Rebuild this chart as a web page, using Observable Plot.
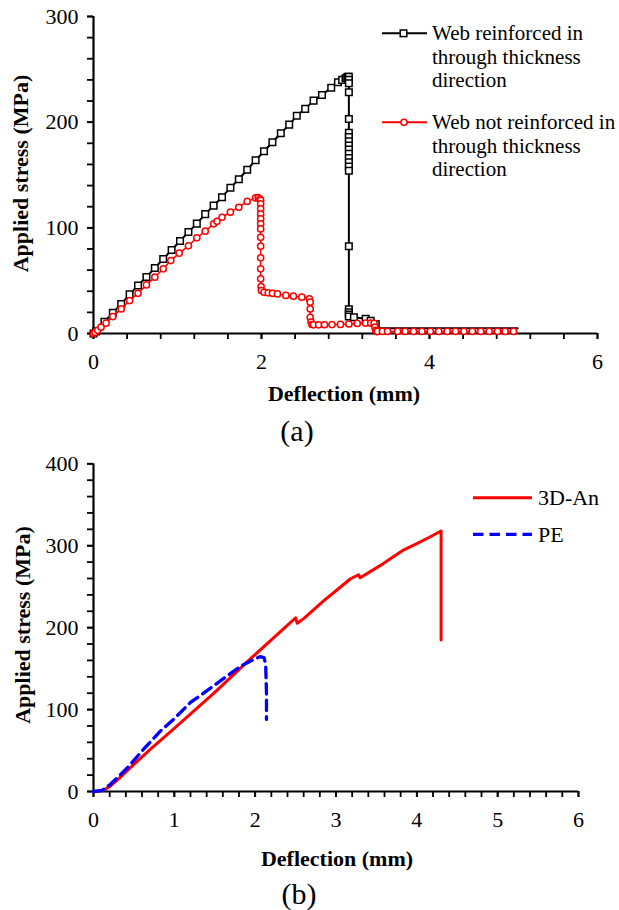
<!DOCTYPE html>
<html><head><meta charset="utf-8">
<script src="https://cdn.jsdelivr.net/npm/d3@7"></script>
<script src="https://cdn.jsdelivr.net/npm/@observablehq/plot@0.6"></script>
<style>
body{margin:0;background:#fff;}
#wrap{position:relative;width:619px;height:910px;overflow:hidden;background:#fff;}
#wrap > svg{position:absolute;left:0;}
</style></head><body><div id="wrap"></div>
<script>
// ---------- Chart (a) data ----------
const reinforcedX = [0,0.03,0.13,0.23,0.33,0.43,0.53,0.63,0.73,0.83,0.93,1.03,1.13,1.23,1.33,1.43,1.53,1.63,1.73,1.83,1.93,2.03,2.13,2.23,2.33,2.42,2.52,2.62,2.72,2.83,2.91,2.96,3.0,3.02,3.03,3.04,
  3.04,3.04,3.04,3.04,3.04,3.04,3.04,3.04,3.04,3.04,3.04,3.04,3.04,3.04,3.04,3.04,3.04,3.04,3.04,
  3.10,3.24,3.30,3.36,3.38,5.05];
const reinforcedY = [0,2,11,19.5,28,37,45.5,53.5,62,70.5,79,87.5,96,104,113,121,129,138,146,155,164,172.5,181,189.5,197.7,206,212.6,220.4,225.8,232.5,237.7,240,241.5,242.5,243,243,
  240,236.8,228.3,203,190,186,182,178,174,170,166,162,158,154,82.6,23,20,18,16,
  15.4,13.9,12,9,5,5];
const notReinforcedX = [0,0.02,0.05,0.09,0.15,0.23,0.33,0.43,0.53,0.63,0.73,0.83,0.92,1.02,1.13,1.23,1.33,1.43,1.47,1.53,1.63,1.73,1.83,1.93,1.96,1.98,
  1.99,1.99,1.99,1.99,1.99,1.99,1.99,1.99,1.99,1.99,1.99,1.99,1.995,2.0,
  2.03,2.08,2.13,2.19,2.29,2.38,2.48,2.57,
  2.58,2.58,2.58,2.59,2.60,
  2.62,2.68,2.75,2.84,2.94,3.04,3.14,3.24,3.30,3.34,
  3.35,3.36,3.37,
  3.38,3.44,3.50,3.62,3.71,3.81,3.91,4.01,4.11,4.21,4.31,4.41,4.51,4.61,4.71,4.81,4.90,5.00];
const notReinforcedY = [0,1,3,6,9.8,16,23.3,31.2,38,46,53.3,61.2,69,76,83,90.5,96.8,103.8,106.2,110,114.8,119.5,125,128.3,128.5,127.5,
  126,122.7,118,113,108.5,103.8,99,91,82.6,71.6,61.2,51.7,44.5,40.7,
  39,38.5,38,37.5,36,35.3,34.4,32.8,
  29.6,23.3,15.4,10.7,8.5,
  8.2,8.2,8.3,8.4,8.6,9,9.5,9.8,9.8,9.5,
  6,3,1.8,
  2,2,2,2,2,2,2,2,2,2,2,2,2,2,2,2,2,2];
const aXTicks = [0,2,4,6];
const aXMinor = [0,0.4,0.8,1.2,1.6,2,2.4,2.8,3.2,3.6,4,4.4,4.8,5.2,5.6,6];
const aYTicks = [0,100,200,300];
const aYMinor = [0,20,40,60,80,100,120,140,160,180,200,220,240,260,280,300];
const aLegend = ["Web reinforced in|through thickness|direction", "Web not reinforced in|through thickness|direction"];

// ---------- Chart (b) data ----------
const anX = [0,0.06,0.12,0.2,0.3,0.5,0.705,1.0,1.5,1.94,2.2,2.50,2.52,2.6,2.85,3.0,3.18,3.28,3.30,3.55,3.70,3.84,4.0,4.15,4.30,4.30];
const anY = [0,0.5,1.5,6,14.5,33,51.6,77,121,161.8,185,212,205.4,211,233,245,259.7,264.6,261,276,286,295,302.6,310,318,185];
const peX = [0,0.1,0.21,0.42,0.62,0.83,0.99,1.2,1.32,1.57,1.82,1.98,2.06,2.11,2.13,2.14,2.14];
const peY = [0,1,8.8,29,51.6,74,88,108.7,117,135,153,161,164.6,163.5,155,120,88];
const bXTicks = [0,1,2,3,4,5,6];
const bXMinor = [0,0.2,0.4,0.6,0.8,1,1.2,1.4,1.6,1.8,2,2.2,2.4,2.6,2.8,3,3.2,3.4,3.6,3.8,4,4.2,4.4,4.6,4.8,5,5.2,5.4,5.6,5.8,6];
const bYTicks = [0,100,200,300,400];
const bYMinor = [0,20,40,60,80,100,120,140,160,180,200,220,240,260,280,300,320,340,360,380,400];
const bLegend = ["3D-An","PE"];

const FONT = "Liberation Serif";
const pts = (xs, ys) => xs.map((x, i) => ({x, y: ys[i]}));
const reinforced = pts(reinforcedX, reinforcedY);
const notReinforced = pts(notReinforcedX, notReinforcedY);
const an = pts(anX, anY);
const pe = pts(peX, peY);

function axes(xT, xM, yT, yM, xMax, yMax) {
  return [
    Plot.axisY({ticks: yM, tickSize: 6, text: null, label: null, strokeWidth: 1.8}),
    Plot.axisY({ticks: yT, tickSize: 6, tickPadding: 9, fontSize: 22, label: null, strokeWidth: 1.8, tickFormat: d => String(d)}),
    Plot.axisX({ticks: xM, tickSize: 6, text: null, label: null, strokeWidth: 1.8}),
    Plot.axisX({ticks: xT, tickSize: 6, tickPadding: 14, fontSize: 22, label: null, strokeWidth: 1.8, tickFormat: d => String(d)}),
    Plot.ruleX([0], {y1: 0, y2: yMax, stroke: "black", strokeWidth: 2.2}),
    Plot.ruleY([0], {x1: 0, x2: xMax, stroke: "black", strokeWidth: 2.2})
  ];
}

const plotA = Plot.plot({
  width: 619, height: 440,
  marginLeft: 93, marginRight: 22, marginTop: 16, marginBottom: 107,
  style: {fontFamily: FONT, color: "black", background: "transparent", overflow: "visible"},
  x: {domain: [0, 6]},
  y: {domain: [0, 300]},
  marks: [
    ...axes(aXTicks, aXMinor, aYTicks, aYMinor, 6, 300),
    Plot.line(reinforced, {x: "x", y: "y", stroke: "black", strokeWidth: 2}),
    Plot.dot(reinforced.filter(d => !(d.x > 3.35 && d.y < 8)), {x: "x", y: "y", symbol: "square", r: 3.7, stroke: "black", fill: "white", strokeWidth: 1.5}),
    Plot.line(notReinforced, {x: "x", y: "y", stroke: "#ff0000", strokeWidth: 1.5}),
    Plot.dot(notReinforced, {x: "x", y: "y", r: 3.1, stroke: "#ff0000", fill: "white", strokeWidth: 1.5})
  ]
});
plotA.style.top = "0px";

const plotB = Plot.plot({
  width: 619, height: 470,
  marginLeft: 93, marginRight: 41, marginTop: 23.3, marginBottom: 119,
  style: {fontFamily: FONT, color: "black", background: "transparent", overflow: "visible"},
  x: {domain: [0, 6]},
  y: {domain: [0, 400]},
  marks: [
    ...axes(bXTicks, bXMinor, bYTicks, bYMinor, 6, 400),
    Plot.line(an, {x: "x", y: "y", stroke: "#ff0000", strokeWidth: 3}),
    Plot.line(pe, {x: "x", y: "y", stroke: "#0000ff", strokeWidth: 3.3, strokeDasharray: "10.5,6"})
  ]
});
plotB.style.top = "440px";

const wrap = document.getElementById("wrap");
wrap.appendChild(plotA);
wrap.appendChild(plotB);
for (const p of [plotA, plotB]) {
  p.setAttribute("font-family", FONT);
  p.querySelectorAll("text").forEach(t => t.setAttribute("font-family", FONT));
}

// ---------- Overlay: titles, captions, legends ----------
const ov = d3.select(wrap).append("svg")
  .attr("width", 619).attr("height", 910)
  .attr("font-family", FONT)
  .style("top", "0px");

function txt(x, y, s, size, opts = {}) {
  const t = ov.append("text").attr("x", x).attr("y", y).attr("font-size", size)
    .attr("font-family", FONT)
    .attr("text-anchor", opts.anchor || "start").attr("fill", "black").text(s);
  if (opts.bold) t.attr("font-weight", "bold");
  if (opts.rotate) t.attr("transform", `rotate(-90,${x},${y})`);
  return t;
}
// chart (a)
txt(28, 173.5, "Applied stress (MPa)", 22, {anchor: "middle", bold: true, rotate: true});
txt(344, 401, "Deflection (mm)", 22, {anchor: "middle", bold: true});
txt(297, 440.5, "(a)", 30, {anchor: "middle"});
// legend (a)
ov.append("line").attr("x1", 382).attr("x2", 427).attr("y1", 33.3).attr("y2", 33.3).attr("stroke", "black").attr("stroke-width", 2);
ov.append("rect").attr("x", 403.5 - 3.3).attr("y", 33.3 - 3.3).attr("width", 6.6).attr("height", 6.6).attr("fill", "white").attr("stroke", "black").attr("stroke-width", 1.5);
ov.append("line").attr("x1", 382).attr("x2", 427).attr("y1", 122.3).attr("y2", 122.3).attr("stroke", "#ff0000").attr("stroke-width", 2);
ov.append("circle").attr("cx", 404).attr("cy", 122.3).attr("r", 3.1).attr("fill", "white").attr("stroke", "#ff0000").attr("stroke-width", 1.5);
aLegend[0].split("|").forEach((s, i) => txt(432, 39.8 + i * 23.8, s, 21));
aLegend[1].split("|").forEach((s, i) => txt(432, 128.8 + i * 23.8, s, 21));
// chart (b)
txt(29.5, 625, "Applied stress (MPa)", 22, {anchor: "middle", bold: true, rotate: true});
txt(337, 866, "Deflection (mm)", 22, {anchor: "middle", bold: true});
txt(299, 904, "(b)", 30, {anchor: "middle"});
// legend (b)
ov.append("line").attr("x1", 473).attr("x2", 532).attr("y1", 497.7).attr("y2", 497.7).attr("stroke", "#ff0000").attr("stroke-width", 3);
ov.append("line").attr("x1", 473).attr("x2", 532).attr("y1", 534.3).attr("y2", 534.3).attr("stroke", "#0000ff").attr("stroke-width", 3.3).attr("stroke-dasharray", "10.5,6");
txt(538, 505, bLegend[0], 22);
txt(538, 541.6, bLegend[1], 22);
</script></body></html>
